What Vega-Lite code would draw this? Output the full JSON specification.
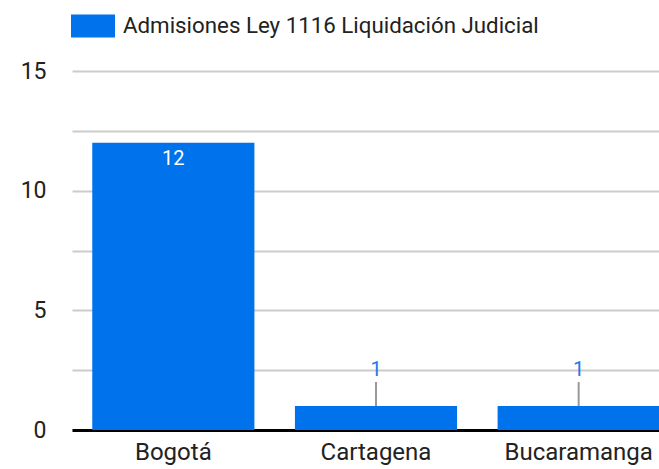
{
  "$schema": "https://vega.github.io/schema/vega-lite/v6.json",
  "width": 587,
  "height": 359,
  "autosize": {"type": "none"},
  "padding": {"left": 72, "top": 71, "right": 0, "bottom": 39},
  "background": "white",
  "config": {
    "font": "Roboto",
    "view": {"stroke": null}
  },
  "data": {
    "values": [
      {"ciudad": "Bogotá", "valor": 12, "serie": "Admisiones Ley 1116 Liquidación Judicial"},
      {"ciudad": "Cartagena", "valor": 1, "serie": "Admisiones Ley 1116 Liquidación Judicial"},
      {"ciudad": "Bucaramanga", "valor": 1, "serie": "Admisiones Ley 1116 Liquidación Judicial"}
    ]
  },
  "encoding": {
    "x": {
      "field": "ciudad",
      "type": "nominal",
      "sort": null,
      "scale": {"range": [0, 608], "paddingInner": 0.2, "paddingOuter": 0.1},
      "axis": {
        "title": null,
        "labelAngle": 0,
        "labelFontSize": 24,
        "labelColor": "#222222",
        "labelPadding": 10,
        "ticks": false,
        "domainColor": "#000000",
        "domainWidth": 3,
        "grid": false
      }
    },
    "y": {
      "field": "valor",
      "type": "quantitative",
      "scale": {"domain": [0, 15], "nice": false},
      "axis": {
        "title": null,
        "values": [0, 2.5, 5, 7.5, 10, 12.5, 15],
        "labelExpr": "datum.value % 5 == 0 ? datum.label : ''",
        "labelFontSize": 23,
        "labelColor": "#222222",
        "labelPadding": 26,
        "ticks": false,
        "tickSize": 0,
        "domain": false,
        "gridColor": "#cccccc",
        "gridWidth": 2
      }
    }
  },
  "layer": [
    {
      "mark": {"type": "bar", "color": "#0072ec"},
      "encoding": {
        "color": {
          "field": "serie",
          "type": "nominal",
          "scale": {"range": ["#0072ec"]},
          "legend": {
            "title": null,
            "orient": "none",
            "legendX": -1,
            "legendY": -67,
            "symbolType": "M-1,-0.523H1V0.523H-1Z",
            "symbolSize": 1936,
            "symbolStrokeWidth": 0,
            "symbolOpacity": 1,
            "labelFontSize": 22.3,
            "labelColor": "#222222",
            "labelOffset": 8,
            "labelLimit": 600
          }
        }
      }
    },
    {
      "transform": [{"filter": "datum.valor > 5"}],
      "mark": {"type": "text", "baseline": "middle", "dy": 16, "fontSize": 20, "color": "#ffffff"},
      "encoding": {"text": {"field": "valor", "type": "quantitative"}}
    },
    {
      "transform": [{"filter": "datum.valor <= 5"}],
      "mark": {"type": "rule", "color": "#999999", "strokeWidth": 2, "y2Offset": -24},
      "encoding": {"y2": {"field": "valor"}}
    },
    {
      "transform": [{"filter": "datum.valor <= 5"}],
      "mark": {"type": "text", "baseline": "middle", "dy": -36, "fontSize": 20, "color": "#1a7be8"},
      "encoding": {"text": {"field": "valor", "type": "quantitative"}}
    }
  ]
}
